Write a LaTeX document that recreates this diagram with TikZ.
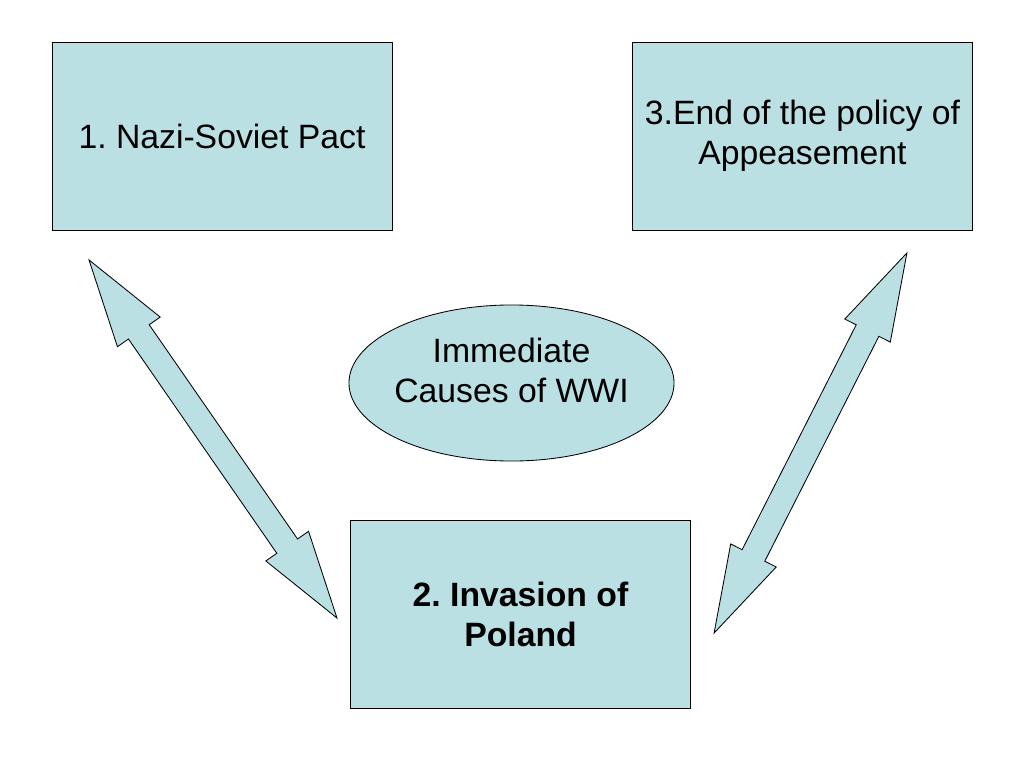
\documentclass[tikz,border=0pt]{standalone}
\usepackage{fontspec}
\setmainfont{Liberation Sans}
\usetikzlibrary{shapes.geometric}
\definecolor{paleblue}{RGB}{187,224,227}
\frenchspacing
\begin{document}
\begin{tikzpicture}[x=0.025cm, y=-0.025cm,
	box/.style={rectangle, draw, fill=paleblue, line width=0.6pt, minimum width=8.5cm, minimum height=4.7cm, align=center, font=\fontsize{24}{28.4}\selectfont},
	hub/.style={ellipse, draw, fill=paleblue, line width=0.6pt, minimum width=8.125cm, minimum height=3.9cm},
	hub text/.style={align=center, font=\fontsize{24}{28.4}\selectfont},
	fat arrow/.style={draw, fill=paleblue, line width=0.6pt, line join=miter}]
		\useasboundingbox (0,0) rectangle (1024,768);
		\node[box] (nazi) at (222,136) {1. Nazi-Soviet Pact};
		\node[box] (appease) at (802.5,136) {3.End of the policy of\\Appeasement};
		\node[box, font=\fontsize{24}{28.4}\selectfont\bfseries] (poland) at (520.5,614.5) {2. Invasion of\\Poland};
		\node[hub] (causes) at (511.5,383) {};
		\node[hub text] (causestext) at ([yshift=9pt]causes.center) {Immediate\\Causes of WWI};
		% left double arrow
		\begin{scope}[shift={(213,439)}, rotate=-55.3]
		  \draw[fat arrow] (-217.8,0) -- (-130.3,26) -- (-130.3,12.6) -- (130.3,12.6) -- (130.3,26) -- (217.8,0)
		    -- (130.3,-26) -- (130.3,-12.6) -- (-130.3,-12.6) -- (-130.3,-26) -- cycle;
		\end{scope}
		% right double arrow
		\begin{scope}[shift={(810.5,443)}, rotate=-116.9]
		  \draw[fat arrow] (-213.1,0) -- (-126.1,25.5) -- (-126.1,12.7) -- (126.1,12.7) -- (126.1,25.5) -- (213.1,0)
		    -- (126.1,-25.5) -- (126.1,-12.7) -- (-126.1,-12.7) -- (-126.1,-25.5) -- cycle;
		\end{scope}
	\end{tikzpicture}
\end{document}
